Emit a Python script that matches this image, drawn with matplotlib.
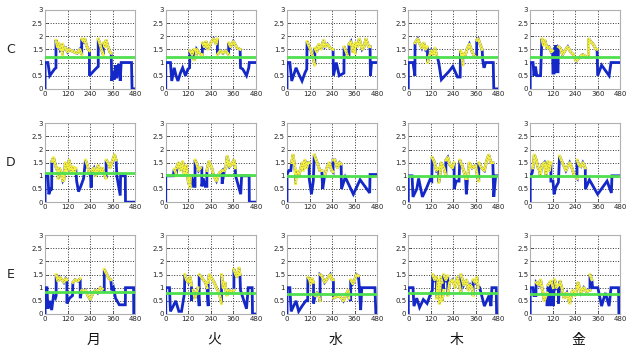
import numpy as np
import matplotlib
matplotlib.use("Agg")
import matplotlib.pyplot as plt

# columns / rows
days = ["月", "火", "水", "木", "金"]
rows = ["C", "D", "E"]

# green reference level per panel (row-major)
green_C = [1.2, 1.2, 1.2, 1.2, 1.2]
green_D = [1.1, 1.05, 1.0, 1.0, 1.0]
green_E = [0.85, 0.8, 0.75, 0.8, 0.75]

# blue traces (minute, value)
C_MON = [(0,0),(0,1),(15,1),(25,0.5),(50,0.75),(58,0.8),(58,1.85),(65,1.6),(72,1.75),(80,1.5),(88,1.6),(93,1.3),(93,1.7),(100,1.5),(110,1.55),(120,1.4),(130,1.5),(140,1.45),(155,1.4),(170,1.35),(185,1.5),(195,1.3),(195,1.9),(205,1.8),(212,1.9),(220,1.65),(230,1.5),(236,1.45),(236,0.5),(255,0.65),(275,0.8),(283,0.85),(283,1.9),(292,1.7),(300,1.5),(310,1.3),(310,1.75),(318,1.6),(325,1.85),(335,1.6),(345,1.4),(352,1.35),(355,0.3),(362,0.65),(368,0.35),(375,0.9),(382,0.4),(390,0.9),(397,0.9),(400,0.3),(405,1.0),(460,1.0),(463,0),(480,0)]
C_TUE = [(0,0),(0,1),(25,1),(32,0.3),(45,0.8),(55,0.5),(65,0.3),(78,0.6),(90,0.8),(105,0.5),(118,0.75),(127,0.8),(129,1.45),(140,1.3),(150,1.5),(150,1.1),(160,1.2),(165,1.5),(175,1.4),(188,1.3),(195,1.3),(195,1.75),(205,1.6),(215,1.8),(225,1.5),(240,1.75),(255,1.9),(268,1.7),(275,1.9),(275,1.3),(290,1.45),(305,1.35),(320,1.45),(335,1.3),(335,1.75),(345,1.6),(360,1.8),(380,1.55),(396,1.5),(398,0.8),(410,0.75),(430,0.5),(442,0.8),(445,1.0),(480,1.0)]
C_WED = [(0,0),(0,1),(15,1),(25,0.3),(48,0.8),(60,0.6),(80,0.3),(95,0.6),(105,0.75),(107,1.8),(115,1.65),(125,1.5),(135,1.3),(148,0.9),(148,1.55),(158,1.4),(168,1.7),(180,1.5),(195,1.85),(202,1.6),(215,1.7),(230,1.55),(245,1.5),(247,0.5),(262,1.0),(278,0.5),(290,0.55),(303,0.6),(304,1.6),(315,1.4),(325,1.2),(330,1.2),(330,1.7),(340,1.8),(350,1.4),(358,1.7),(364,1.35),(364,1.75),(375,1.6),(385,1.9),(400,1.5),(410,1.6),(420,1.9),(435,1.6),(442,1.6),(444,0.5),(450,1.0),(480,1.0)]
C_THU = [(0,0),(0,1),(25,1),(35,0.5),(36,1.75),(50,1.9),(62,1.7),(72,1.55),(82,1.75),(92,1.5),(102,1.6),(102,1.0),(112,1.25),(122,1.45),(132,1.3),(142,1.55),(152,1.2),(155,1.2),(162,1.0),(176,0.35),(195,0.5),(215,0.65),(237,0.85),(262,0.45),(276,0.45),(278,1.45),(288,1.1),(290,0.9),(290,1.35),(300,1.2),(312,1.5),(325,1.7),(340,1.4),(352,1.25),(362,1.2),(364,1.2),(364,1.85),(372,1.9),(382,1.7),(393,1.5),(396,1.1),(403,0.8),(412,1.0),(452,1.0),(455,0),(480,0)]
C_FRI = [(0,0),(0,1),(15,1),(20,0.5),(28,0.85),(35,0.5),(55,0.5),(62,1.9),(70,1.65),(78,1.85),(88,1.55),(100,1.6),(112,1.4),(119,1.45),(121,0.6),(127,0.6),(130,1.0),(135,1.65),(140,0.65),(148,0.65),(150,1.6),(160,1.55),(172,1.3),(185,1.45),(200,1.6),(215,1.4),(230,1.3),(245,1.05),(262,1.2),(280,1.3),(300,1.2),(310,1.2),(311,1.9),(322,1.8),(335,1.7),(350,1.5),(356,1.5),(359,0.5),(380,0.9),(420,0.5),(430,1.0),(480,1.0)]

D_MON = [(0,0),(0,1),(15,1),(20,0.3),(30,0.5),(35,0.5),(36,1.55),(45,1.7),(55,1.4),(62,1.25),(70,1.2),(70,0.9),(75,1.3),(85,1.15),(95,0.8),(100,0.85),(108,1.5),(118,1.2),(128,1.6),(138,1.1),(148,1.35),(158,1.15),(163,1.3),(168,0.8),(178,0.4),(190,0.6),(205,0.9),(215,1.6),(225,1.4),(235,1.1),(242,1.0),(245,0.55),(250,1.2),(260,1.3),(270,1.0),(283,1.4),(295,1.1),(305,1.3),(318,1.0),(325,0.9),(325,1.6),(335,1.5),(345,1.3),(358,1.55),(370,1.8),(378,1.6),(382,1.0),(400,0.25),(402,1.0),(427,1.0),(428,0),(480,0)]
D_TUE = [(0,0),(0,1),(40,1),(45,1.25),(55,1.1),(57,1.0),(57,1.3),(68,1.5),(78,1.2),(90,1.55),(100,1.0),(110,1.4),(120,0.8),(129,0.55),(132,1.0),(140,0.9),(148,0.6),(156,0.6),(156,1.6),(165,1.45),(175,1.2),(185,1.3),(192,1.3),(192,0.6),(200,0.9),(210,0.6),(219,0.6),(219,1.2),(230,1.55),(245,1.3),(255,1.0),(270,0.8),(285,1.1),(300,1.2),(300,0.7),(312,1.2),(320,1.3),(327,1.75),(340,1.35),(352,1.45),(363,1.6),(370,1.3),(372,1.0),(399,0.3),(404,1.0),(444,1.0),(445,0),(480,0)]
D_WED = [(0,0),(0,1.05),(10,1.2),(20,1.2),(25,1.5),(32,1.8),(40,1.4),(45,1.1),(45,0.7),(50,1.2),(60,0.95),(70,1.2),(81,1.5),(88,1.2),(95,1.6),(105,1.3),(112,1.5),(118,1.5),(118,0.9),(130,0.3),(140,0.8),(145,1.8),(155,1.6),(165,1.4),(175,1.2),(185,1.2),(190,0.5),(200,1.0),(212,1.3),(225,1.5),(238,1.2),(245,1.15),(245,1.6),(255,1.6),(268,1.3),(280,1.5),(288,1.45),(290,0.5),(310,0.95),(353,0.3),(389,0.85),(440,0.35),(442,1.05),(480,1.05)]
D_THU = [(0,0),(0,1),(20,1),(25,0.2),(45,0.5),(55,0.9),(75,0.2),(95,0.5),(115,0.85),(125,0.8),(127,1.7),(137,1.55),(150,1.2),(162,1.3),(162,0.75),(168,1.0),(175,1.5),(190,1.3),(200,1.0),(200,1.6),(210,1.7),(222,1.4),(235,1.3),(244,1.5),(244,0.5),(255,0.8),(270,0.8),(274,1.6),(285,1.4),(295,1.2),(305,0.9),(309,0.3),(315,0.9),(325,1.5),(340,1.3),(358,1.4),(368,1.0),(375,0.8),(375,1.5),(390,1.3),(405,1.2),(418,1.6),(428,1.8),(440,1.5),(450,1.5),(455,0.2),(465,1.0),(480,1.0)]
D_FRI = [(0,0),(0,1),(10,1.1),(15,1.3),(22,1.8),(32,1.6),(42,1.3),(50,1.2),(53,1.0),(62,1.4),(75,1.5),(85,1.0),(95,1.55),(102,1.2),(110,1.5),(110,0.8),(121,0.8),(127,0.3),(135,0.55),(150,0.75),(156,1.75),(165,1.6),(178,1.4),(190,1.2),(210,1.5),(222,1.3),(235,1.0),(249,0.9),(249,1.6),(260,1.4),(270,1.35),(280,1.5),(293,1.3),(294,0.5),(315,0.85),(359,0.3),(409,0.8),(432,0.35),(435,1.0),(480,1.0)]

E_MON = [(0,0),(0,1),(10,1),(15,0.2),(25,0.5),(35,0.15),(45,0.7),(55,0.6),(59,0.7),(59,1.5),(68,1.25),(78,1.4),(90,1.3),(100,1.2),(110,1.35),(116,1.3),(116,0.4),(130,0.6),(146,0.7),(148,1.2),(160,1.3),(175,1.25),(187,1.35),(187,0.6),(195,0.9),(205,0.85),(215,0.9),(228,0.7),(240,0.55),(255,0.8),(268,0.9),(280,0.8),(295,1.0),(305,0.95),(315,0.9),(315,1.7),(325,1.55),(340,1.35),(350,1.3),(355,0.9),(364,1.0),(375,0.6),(395,0.35),(427,0.35),(428,1.0),(471,1.0),(472,0),(480,0)]
E_TUE = [(0,0),(0,1),(20,1),(25,0.1),(40,0.3),(53,0.5),(70,0.1),(84,0.1),(100,0.8),(101,1.5),(110,1.3),(120,1.2),(130,1.4),(137,1.1),(137,0.5),(146,0.9),(155,0.6),(165,0.8),(172,1.0),(178,0.3),(178,1.5),(190,1.4),(200,1.3),(212,1.2),(220,1.0),(226,0.3),(226,1.2),(232,1.5),(245,1.35),(258,1.2),(270,1.0),(285,0.8),(297,0.4),(297,1.5),(305,1.0),(315,1.2),(325,0.7),(335,0.9),(350,0.85),(363,0.9),(363,1.7),(372,1.5),(380,1.4),(390,1.75),(395,1.5),(398,0.9),(430,0.2),(439,1.0),(460,1.0),(462,0),(480,0)]
E_WED = [(0,0),(0,1),(15,1),(22,0.1),(35,0.3),(48,0.5),(62,0.1),(80,0.3),(100,0.5),(110,0.5),(111,1.4),(120,1.3),(125,1.15),(133,1.35),(141,1.2),(141,0.4),(150,0.7),(160,0.8),(168,0.75),(176,0.5),(176,1.5),(185,1.45),(200,1.2),(215,1.35),(230,1.5),(240,1.3),(247,1.3),(247,0.6),(260,0.65),(275,0.7),(290,0.6),(300,0.5),(315,0.75),(326,0.9),(330,0.6),(339,0.5),(339,1.3),(350,1.15),(360,1.3),(370,1.5),(380,1.45),(385,1.0),(392,0.15),(398,1.0),(468,1.0),(473,0),(480,0)]
E_THU = [(0,0),(0,1),(25,1),(30,0.3),(45,0.6),(60,0.25),(80,0.55),(100,0.4),(120,0.8),(128,0.9),(130,1.5),(140,1.3),(150,1.4),(150,0.6),(158,1.3),(165,1.2),(165,0.4),(172,1.4),(180,1.2),(180,0.5),(188,0.9),(188,1.5),(200,1.3),(210,1.45),(210,0.7),(220,1.2),(235,1.3),(250,1.0),(260,1.4),(270,1.2),(280,0.8),(280,1.5),(295,1.1),(310,1.3),(320,0.9),(330,1.1),(340,1.0),(345,0.7),(345,1.3),(355,1.2),(365,1.4),(372,1.0),(380,1.0),(405,0.3),(430,0.7),(440,0.3),(445,1.0),(468,1.0),(470,0),(480,0)]
E_FRI = [(0,0),(0,1),(15,1),(20,0.7),(30,0.7),(32,1.2),(45,1.1),(55,1.3),(65,0.9),(75,0.5),(90,0.8),(90,0.3),(95,1.1),(105,1.2),(105,0.3),(112,1.25),(122,1.0),(122,0.3),(130,1.3),(140,1.0),(150,1.1),(150,0.4),(158,1.25),(168,1.0),(180,0.6),(195,0.8),(210,0.4),(225,0.9),(240,0.7),(255,1.2),(270,0.8),(285,1.0),(300,0.85),(318,0.9),(318,1.5),(328,1.3),(332,1.0),(360,1.0),(380,0.3),(400,0.8),(420,0.3),(430,1.0),(470,1.0),(472,0),(480,0)]

# minute ranges where the trace is highlighted yellow
C_MON_Y = [(58,236),(283,352)]
C_TUE_Y = [(129,396)]
C_WED_Y = [(107,245),(304,442)]
C_THU_Y = [(36,155),(278,393)]
C_FRI_Y = [(62,119),(150,356)]
D_MON_Y = [(36,163),(215,240),(250,378)]
D_TUE_Y = [(45,132),(156,190),(219,300),(312,370)]
D_WED_Y = [(25,118),(145,185),(200,288)]
D_THU_Y = [(127,244),(274,305),(315,450)]
D_FRI_Y = [(15,110),(156,293)]
E_MON_Y = [(59,116),(148,187),(195,305),(315,350)]
E_TUE_Y = [(101,137),(146,172),(178,220),(226,395)]
E_WED_Y = [(111,141),(150,176),(176,330),(339,380)]
E_THU_Y = [(130,372)]
E_FRI_Y = [(32,90),(95,105),(112,122),(130,150),(158,328)]

traces = [[C_MON, C_TUE, C_WED, C_THU, C_FRI],
          [D_MON, D_TUE, D_WED, D_THU, D_FRI],
          [E_MON, E_TUE, E_WED, E_THU, E_FRI]]
yellows = [[C_MON_Y, C_TUE_Y, C_WED_Y, C_THU_Y, C_FRI_Y],
           [D_MON_Y, D_TUE_Y, D_WED_Y, D_THU_Y, D_FRI_Y],
           [E_MON_Y, E_TUE_Y, E_WED_Y, E_THU_Y, E_FRI_Y]]
greens = [green_C, green_D, green_E]


def yellow_path(pts, ranges):
    # non-vertical segments inside the ranges, broken with nan
    xs, ys = [], []
    for (x0, y0), (x1, y1) in zip(pts[:-1], pts[1:]):
        if x0 == x1:
            continue
        if not any(a <= x0 and x1 <= b for a, b in ranges):
            continue
        if xs and xs[-1] == x0 and ys[-1] == y0:
            xs.append(x1); ys.append(y1)
        else:
            xs += [np.nan, x0, x1]; ys += [np.nan, y0, y1]
    return np.array(xs), np.array(ys)


fig = plt.figure(figsize=(6.35, 3.54), dpi=100)
lefts = [0.071, 0.261, 0.452, 0.643, 0.835]
bottoms = [0.749, 0.429, 0.113]
w, h = 0.142, 0.223

for r in range(3):
    for c in range(5):
        ax = fig.add_axes([lefts[c], bottoms[r], w, h])
        pts = traces[r][c]
        x = np.array([p[0] for p in pts], float)
        y = np.array([p[1] for p in pts], float)
        ax.plot(x, y, color="#1428c8", lw=2.0, solid_joinstyle="miter", zorder=3)
        yx, yy = yellow_path(pts, yellows[r][c])
        ax.plot(yx, yy, color="#f4f040", lw=2.0, zorder=4)
        ax.plot(yx, yy, color="#333333", lw=0.4, ls=(0, (1, 4)), zorder=5)
        ax.axhline(greens[r][c], color="#4ee04e", lw=2.0, zorder=6)
        ax.set_xlim(0, 480)
        ax.set_ylim(0, 3)
        ax.set_xticks([0, 120, 240, 360, 480])
        ax.set_yticks([0, 0.5, 1, 1.5, 2, 2.5, 3])
        ax.set_yticklabels(["0", "0.5", "1", "1.5", "2", "2.5", "3"])
        ax.grid(True, color="#333333", ls=":", lw=0.7)
        ax.tick_params(direction="in", length=2, labelsize=5, pad=1.5,
                       colors="#222222", width=0.5)
        for s in ax.spines.values():
            s.set_color("#b0b0b0")
            s.set_linewidth(0.8)

for r, lab in enumerate(rows):
    fig.text(0.017, bottoms[r] + h * 0.5, lab, fontsize=9, ha="center", va="center",
             color="#222222")

for c, d in enumerate(days):
    fig.text(lefts[c] + w * 0.5 + 0.005, 0.04, d, fontsize=10, ha="center", va="center",
             family=["Noto Sans CJK JP", "DejaVu Sans"], color="#111111")

fig.savefig("out.png", dpi=100)
